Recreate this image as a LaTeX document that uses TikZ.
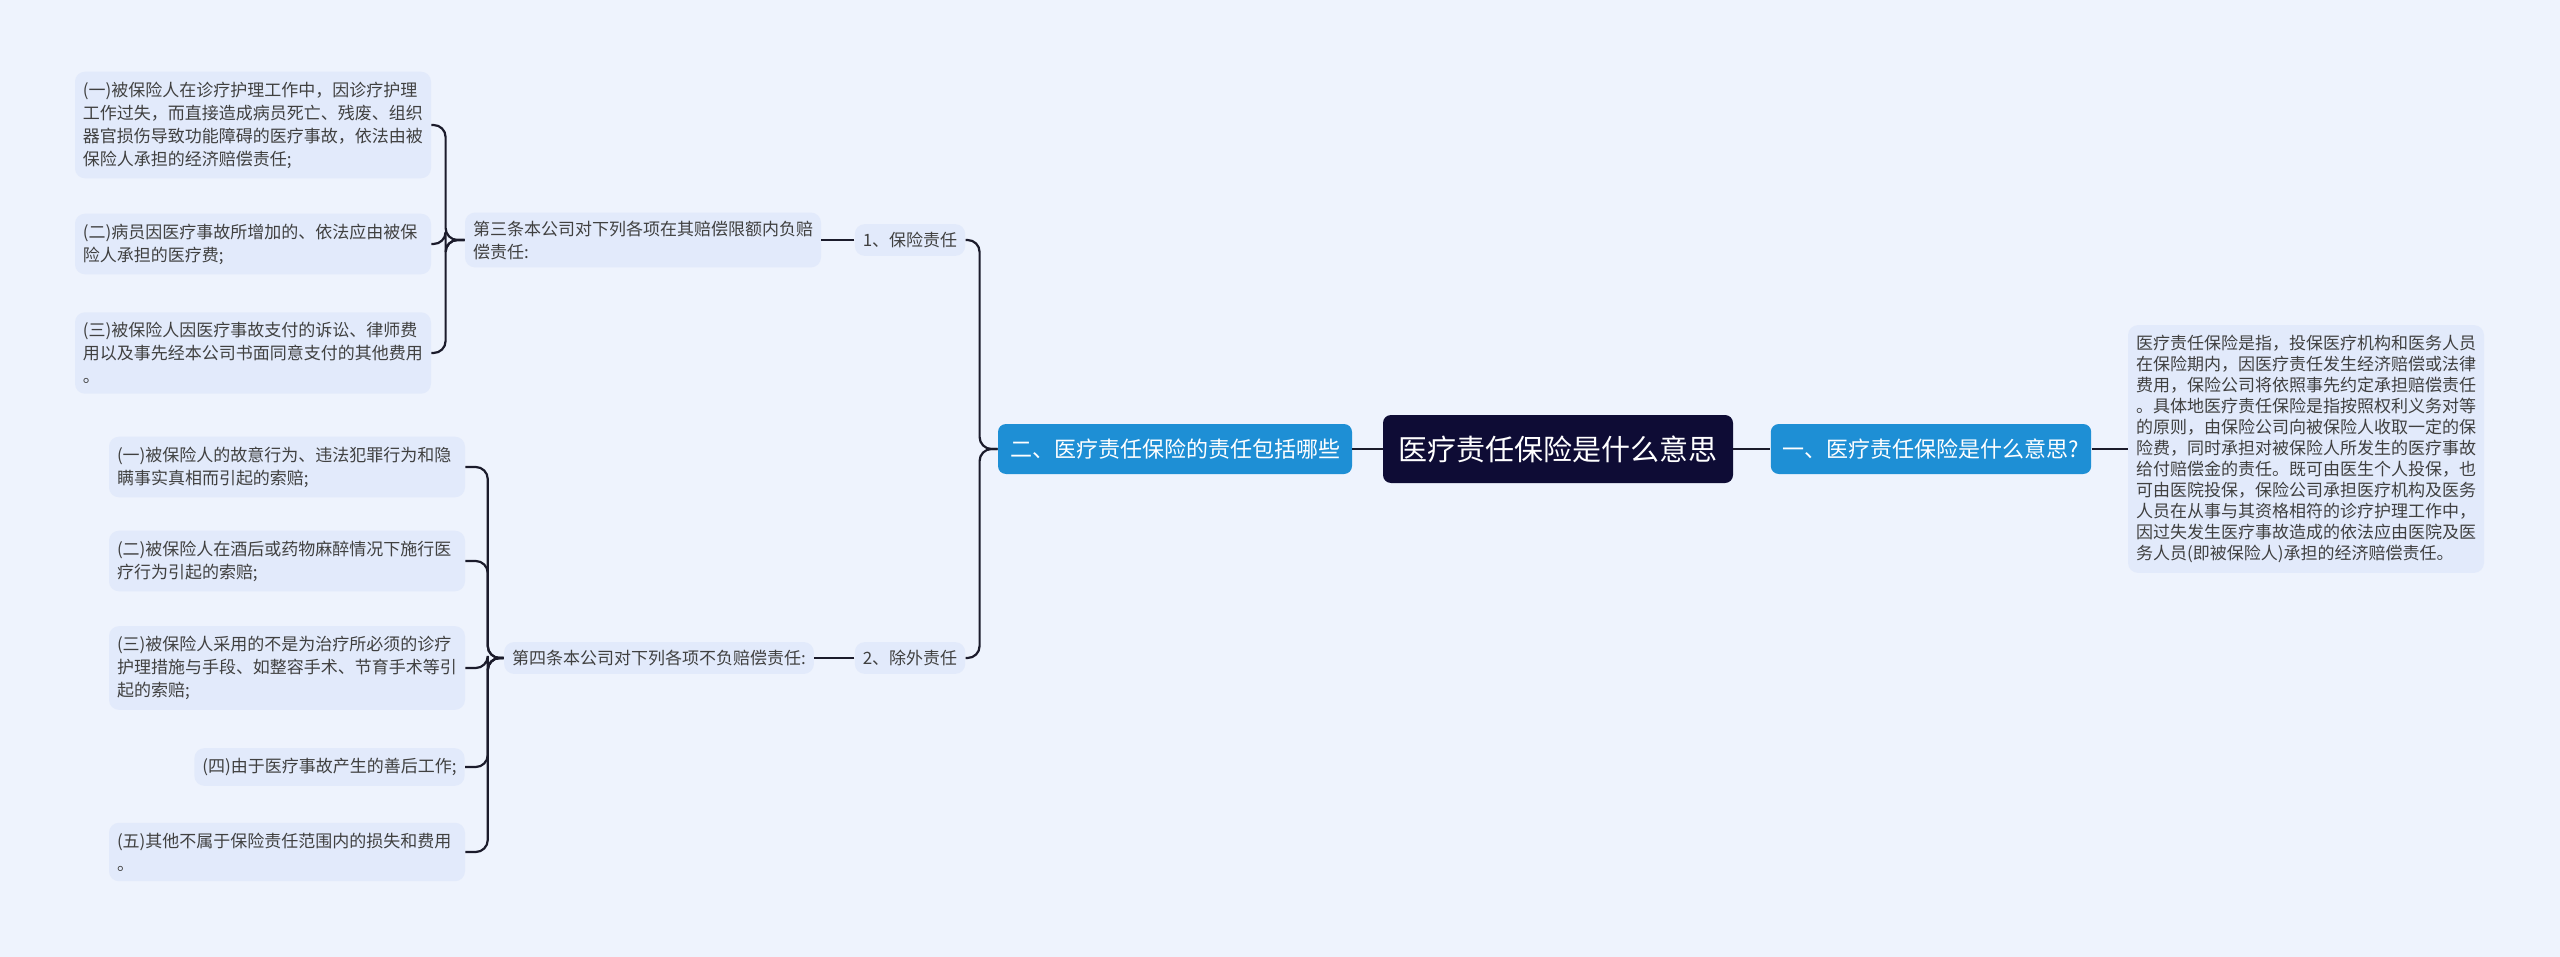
\documentclass[tikz,border=0pt]{standalone}
\usepackage{fontspec}
\setmainfont{Noto Sans CJK SC}
\definecolor{bgc}{HTML}{EEF3FD}
\definecolor{boxc}{HTML}{E2EAFB}
\definecolor{rootc}{HTML}{0E0C35}
\definecolor{topc}{HTML}{1E8FD5}
\definecolor{linec}{HTML}{1B1B2B}
\tikzset{
  leaf/.style={fill=boxc, rounded corners=5pt, inner xsep=4pt, inner ysep=5pt, align=left, font=\fontsize{8.5}{11.5}\selectfont, text=black!75},
  sub/.style={fill=boxc, rounded corners=5pt, inner xsep=4pt, inner ysep=4pt, align=left, font=\fontsize{8.5}{11.5}\selectfont, text=black!75},
  topic/.style={fill=topc, rounded corners=4pt, text=white, inner xsep=6pt, minimum height=25pt, font=\fontsize{11}{13}\selectfont},
  link/.style={draw=linec, line width=1.1pt, rounded corners=6pt}
}
\begin{document}
\begin{tikzpicture}[x=0.5pt, y=-0.5pt]
	    \fill[bgc] (0,0) rectangle (2560,957);
	    \useasboundingbox (0,0) rectangle (2560,957);
	    
	    \node[fill=rootc, rounded corners=4pt, text=white, minimum width=175pt, minimum height=34pt, font=\fontsize{14.5}{16}\selectfont] (root) at (1558,449) {医疗责任保险是什么意思};
	    \node[topic] (t1) at (1931,449) {一、医疗责任保险是什么意思?};
	    \node[topic] (t2) at (1175,449) {二、医疗责任保险的责任包括哪些};
	    
	    \node[leaf, font=\fontsize{8.5}{10.5}\selectfont] (def) at (2306,449) {医疗责任保险是指，投保医疗机构和医务人员\\在保险期内，因医疗责任发生经济赔偿或法律\\费用，保险公司将依照事先约定承担赔偿责任\\。具体地医疗责任保险是指按照权利义务对等\\的原则，由保险公司向被保险人收取一定的保\\险费，同时承担对被保险人所发生的医疗事故\\给付赔偿金的责任。既可由医生个人投保，也\\可由医院投保，保险公司承担医疗机构及医务\\人员在从事与其资格相符的诊疗护理工作中，\\因过失发生医疗事故造成的依法应由医院及医\\务人员(即被保险人)承担的经济赔偿责任。};
	    
	    \node[sub] (s1) at (910,240) {1、保险责任};
	    \node[sub] (s2) at (910,658) {2、除外责任};
	    \node[sub] (a3) at (643,240) {第三条本公司对下列各项在其赔偿限额内负赔\\偿责任:};
	    \node[sub] (a4) at (659,658) {第四条本公司对下列各项不负赔偿责任:};
	    
	    \node[leaf, text width=170pt] (p1) at (253,125) {(一)被保险人在诊疗护理工作中，因诊疗护理\\工作过失，而直接造成病员死亡、残废、组织\\器官损伤导致功能障碍的医疗事故，依法由被\\保险人承担的经济赔偿责任;};
	    \node[leaf, text width=170pt] (p2) at (253,244) {(二)病员因医疗事故所增加的、依法应由被保\\险人承担的医疗费;};
	    \node[leaf, text width=170pt] (p3) at (253,353) {(三)被保险人因医疗事故支付的诉讼、律师费\\用以及事先经本公司书面同意支付的其他费用\\。};
	    
	    \node[leaf, text width=170pt] (q1) at (287,467) {(一)被保险人的故意行为、违法犯罪行为和隐\\瞒事实真相而引起的索赔;};
	    \node[leaf, text width=170pt] (q2) at (287,561) {(二)被保险人在酒后或药物麻醉情况下施行医\\疗行为引起的索赔;};
	    \node[leaf, text width=170pt] (q3) at (287,668) {(三)被保险人采用的不是为治疗所必须的诊疗\\护理措施与手段、如整容手术、节育手术等引\\起的索赔;};
	    \node[leaf, anchor=east] (q4) at (465,767) {(四)由于医疗事故产生的善后工作;};
	    \node[leaf, text width=170pt] (q5) at (287,852) {(五)其他不属于保险责任范围内的损失和费用\\。};
	    
	    \draw[link] (root) -- (t1);
	    \draw[link] (t1) -- (def);
	    \draw[link] (root) -- (t2);
	    \draw[link] (t2.west) -- ++(-18,0) |- (s1.east);
	    \draw[link] (t2.west) -- ++(-18,0) |- (s2.east);
	    \draw[link] (s1) -- (a3);
	    \draw[link] (s2) -- (a4);
	    \foreach \p in {p1,p2,p3}
	      \draw[link] (a3.west) -- ++(-19,0) |- (\p.east);
	    \foreach \q in {q1,q2,q3,q4,q5}
	      \draw[link] (a4.west) -- ++(-16,0) |- (\q.east);
\end{tikzpicture}
\end{document}
